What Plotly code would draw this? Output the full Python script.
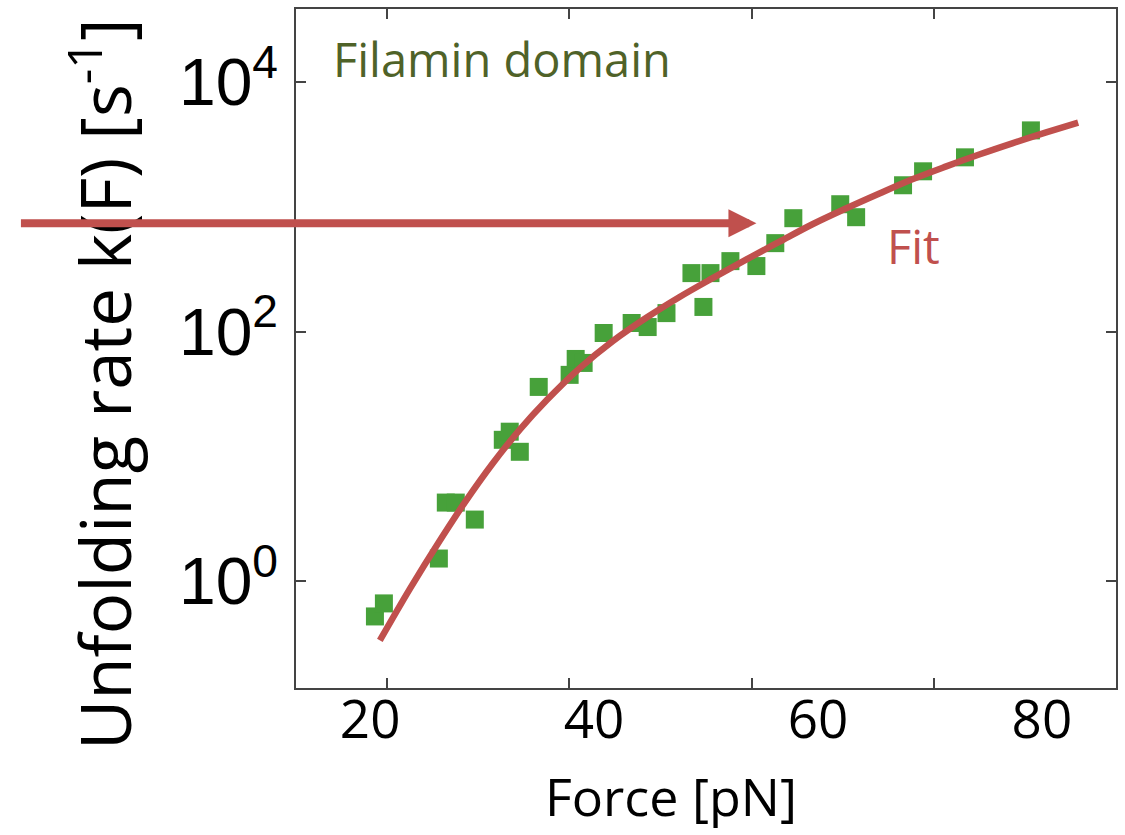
import plotly.graph_objects as go

# ---- data ----
force_pts = [20.43, 21.23, 26.14, 26.76, 27.65, 29.35, 31.85, 32.47, 33.37, 35.06,
             37.82, 38.36, 39.07, 40.86, 43.36, 44.79, 46.47, 48.70, 50.40, 49.77,
             52.18, 54.50, 56.19, 57.80, 61.99, 63.41, 67.60, 69.39, 73.13, 79.02]
rate_pts = [0.522, 0.664, 1.52, 4.27, 4.27, 3.12, 13.6, 15.8, 10.9, 36.1,
            45.1, 60.5, 56.2, 97.7, 117.5, 109, 141, 295, 295, 158,
            368, 336, 513, 813, 1052, 828, 1493, 1932, 2500, 4111]

fit_force = [20.87, 23.55, 26.23, 28.46, 30.96, 33.37, 35.78, 38.72, 41.67, 44.70,
             47.64, 50.59, 53.62, 56.57, 59.51, 62.54, 65.49, 68.43, 71.46, 74.40,
             77.35, 80.38, 83.24]
fit_rate = [0.335, 0.868, 2.12, 4.28, 8.81, 16.4, 28.3, 51.1, 84.1, 130,
            190, 269, 380, 527, 727, 976, 1282, 1666, 2116, 2635,
            3239, 3960, 4751]

x_tick_vals = [20, 40, 60, 80]
x_tick_text = ["20", "40", "60", "80"]
y_tick_vals = [1, 100, 10000]
y_tick_text = ["10<sup>0</sup>", "10<sup>2</sup>", "10<sup>4</sup>"]

GREEN = "#47A13A"
RED = "#C0504D"
OLIVE = "#4F6228"
AXC = "#444444"

fig = go.Figure()
fig.add_trace(go.Scatter(x=force_pts, y=rate_pts, mode="markers",
                         marker=dict(symbol="square", size=18, color=GREEN),
                         showlegend=False, hoverinfo="skip"))
fig.add_trace(go.Scatter(x=fit_force, y=fit_rate, mode="lines",
                         line=dict(color=RED, width=6.5, shape="spline"),
                         showlegend=False, hoverinfo="skip"))
# empty trace to register the tick-mark axis
fig.add_trace(go.Scatter(x=[], y=[], xaxis="x2", yaxis="y", showlegend=False))

fig.update_layout(
    width=1125, height=835,
    margin=dict(l=296, r=8, t=7, b=147),
    paper_bgcolor="white", plot_bgcolor="white",
    xaxis=dict(range=[13.38, 86.62], tickvals=x_tick_vals, ticktext=x_tick_text,
               ticks="", showline=False, showgrid=False, zeroline=False,
               tickfont=dict(family="Open Sans", size=53, color="black"),
               ticklabelstandoff=-4),
    xaxis2=dict(overlaying="x", side="bottom", range=[10, 100],
                tickvals=x_tick_vals, showticklabels=False,
                ticks="inside", ticklen=10, tickwidth=1.5, tickcolor=AXC,
                showline=True, linecolor=AXC, linewidth=1.5, mirror="ticks",
                showgrid=False, zeroline=False),
    yaxis=dict(type="log", range=[-0.856, 4.587], tickvals=y_tick_vals,
               ticktext=y_tick_text, ticks="inside", ticklen=10, tickwidth=1.5,
               tickcolor=AXC, showline=True, linecolor=AXC, linewidth=1.5,
               mirror="ticks", showgrid=False, zeroline=False,
               tickfont=dict(family="Liberation Sans, Arial", size=66, color="black"),
               ticklabelstandoff=3),
    annotations=[
        dict(text="Unfolding rate k(F) [s<sup>-1</sup>]", textangle=-90,
             xref="paper", yref="paper", x=-0.2375, y=0.448,
             xanchor="center", yanchor="middle", showarrow=False,
             font=dict(family="Open Sans", size=69, color="black")),
        dict(text="Force [pN]", xref="paper", yref="paper", x=0.4568, y=-0.158,
             xanchor="center", yanchor="middle", showarrow=False,
             font=dict(family="Open Sans", size=52, color="black")),
        dict(text="Filamin domain", xref="paper", yref="paper", x=0.043, y=0.926,
             xanchor="left", yanchor="middle", showarrow=False,
             font=dict(family="Open Sans", size=47, color=OLIVE)),
        dict(text="Fit", xref="paper", yref="paper", x=0.718, y=0.651,
             xanchor="left", yanchor="middle", showarrow=False,
             font=dict(family="Open Sans", size=47, color=RED)),
        dict(text="", xref="paper", yref="paper", x=0.5615, y=0.6844,
             ax=-737, ay=0, showarrow=True, arrowhead=2, arrowsize=0.7,
             arrowwidth=8, arrowcolor=RED, standoff=0),
    ],
)

fig.write_html("out.html")
